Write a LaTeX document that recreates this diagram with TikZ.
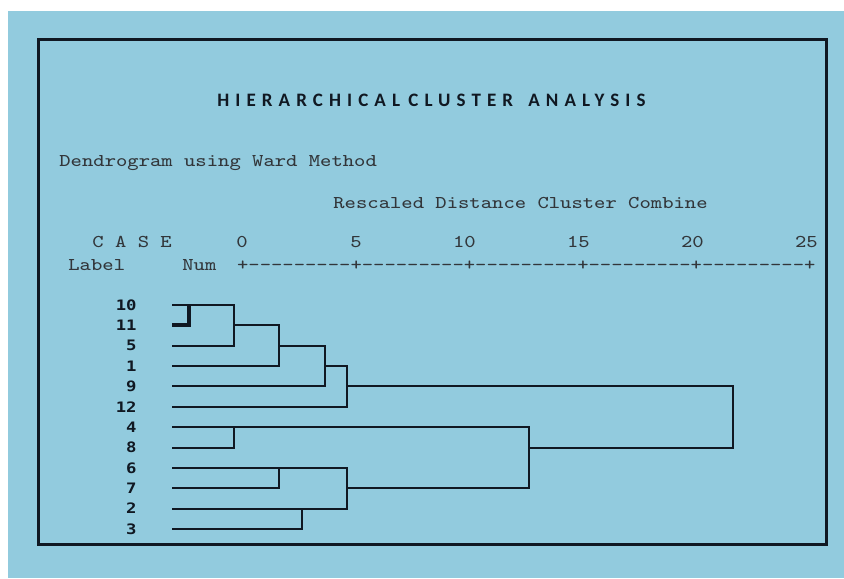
\documentclass[tikz,border=0pt]{standalone}
\usepackage{fontspec}
\usepackage{graphicx}
\usepackage{xcolor}
\newfontfamily\titlefont[LetterSpace=32]{Carlito}
\newfontfamily\leaffont{DejaVu Sans Mono}
\newcommand\widetext[1]{\scalebox{1.2}[1]{#1}}
\definecolor{c_bg}{RGB}{146,203,222}
\definecolor{c_ink}{RGB}{16,24,34}
\definecolor{c_text}{RGB}{50,54,58}
\tikzset{mono-text/.style={font=\ttfamily\fontsize{9}{11}\selectfont, text=c_text, inner sep=0pt, anchor=base west},
title-text/.style={font=\titlefont\bfseries\fontsize{9.5}{11}\selectfont, text=c_ink, inner sep=0pt, anchor=base west},
leaf-label/.style={font=\leaffont\bfseries\fontsize{7.2}{8}\selectfont, text=c_ink, inner sep=0pt, anchor=east},
link/.style={line width=1pt, draw=c_ink}}

\begin{document}
\begin{tikzpicture}[x=0.5pt, y=-0.5pt]
\useasboundingbox (0,0) rectangle (844,578);
\fill[white] (0,0) rectangle (844,578);
\fill[c_bg] (8,11) rectangle (844,578);
\draw[line width=1.3pt, draw=c_ink] (38.5,39.5) rectangle (826.5,544.5);

% title and header
\node (t1) [title-text] at (217,106) {HIERARCHICAL};
\node (t2) [title-text] at (408,106) {CLUSTER};
\node (t3) [title-text] at (528,106) {ANALYSIS};
\node (dend) [mono-text] at (59,166.5) {\widetext{Dendrogram using Ward Method}};
\node (resc) [mono-text] at (333,208.5) {\widetext{Rescaled Distance Cluster Combine}};
\node (case) [mono-text] at (92,247) {\widetext{C A S E}};
\node (lab) [mono-text] at (68,270) {\widetext{Label}};
\node (num) [mono-text] at (182,270) {\widetext{Num}};
\node (axis) [mono-text] at (236.7,270) {\widetext{+---------+---------+---------+---------+---------+}};
\foreach \val [count=\k from 0] in {0,5,10,15,20,25} {
  \node (s\val) [mono-text, anchor=base east] at (248.1+114*\k,247) {\widetext{\val}};
}

% leaves
\foreach \lab [count=\i] in {10,11,5,1,9,12,4,8,6,7,2,3} {
  \pgfmathsetmacro\ry{305+20.36*(\i-1)}
  \coordinate (c\lab) at (172,\ry);
  \node (n\lab) [leaf-label] at (137,\ry) {\widetext{\lab}};
}

% joins
\coordinate (j0) at (189,0 |- c10);
\coordinate (j1) at (234,0 |- c11);
\coordinate (j2) at (279,0 |- c5);
\coordinate (j3) at (325,0 |- c1);
\coordinate (j4) at (347,0 |- c9);
\coordinate (j5) at (234,0 |- c4);
\coordinate (j6) at (347,0 |- c7);
\coordinate (j7) at (529,0 |- c8);
\coordinate (j67) at (279,0 |- c6);
\coordinate (j23) at (302,0 |- c2);
\coordinate (jr) at (733,0 |- c8);

\draw [link, line width=2pt] (c11) -| (j0);
\draw [link] (c10) -| (j1) |- (c5);
\draw [link] (j1) -| (j2) |- (c1);
\draw [link] (j2) -| (j3) |- (c9);
\draw [link] (j3) -| (j4) |- (c12);
\draw [link] (j4) -| (jr) -- (j7);
\draw [link] (c4) -- (j5);
\draw [link] (c8) -| (j5) -| (j7) |- (j6);
\draw [link] (c6) -- (j67);
\draw [link] (c7) -| (j67) -| (j6);
\draw [link] (c2) -- (j23);
\draw [link] (c3) -| (j23) -| (j6);
\end{tikzpicture}
\end{document}
